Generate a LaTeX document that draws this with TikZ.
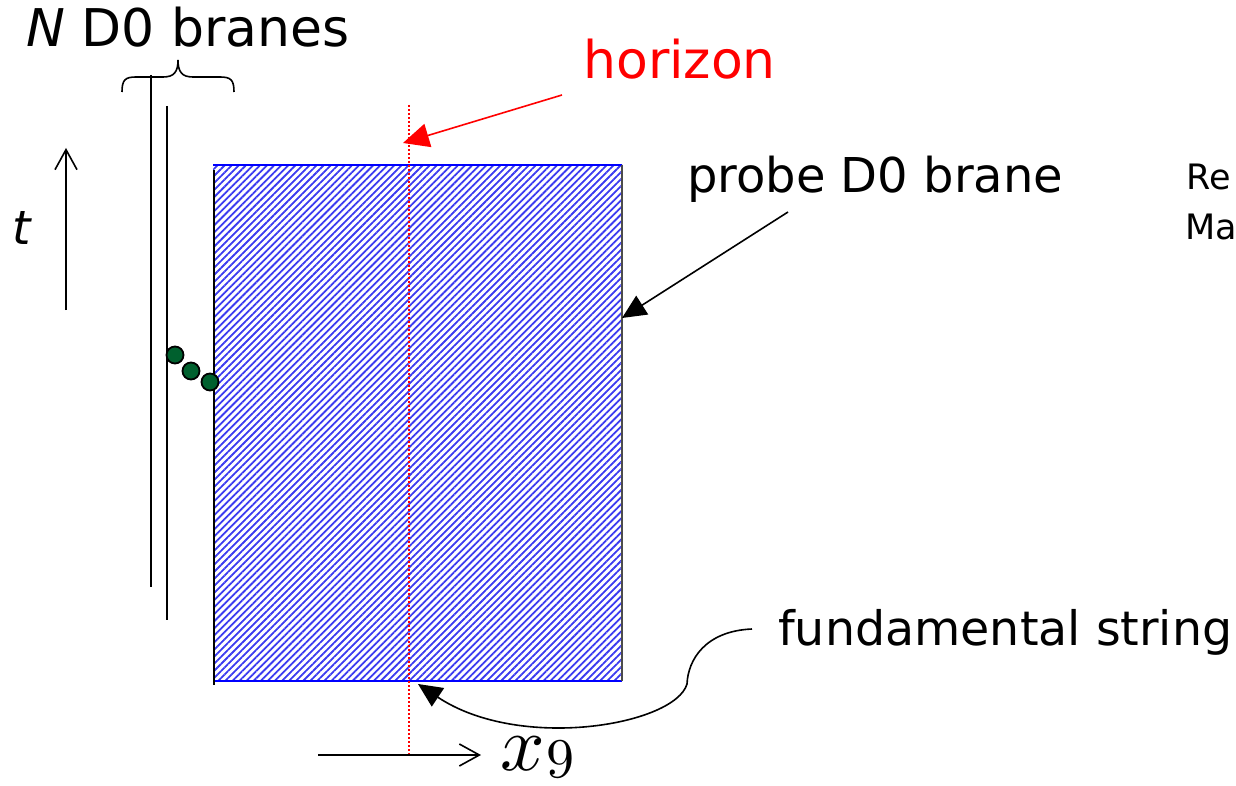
\documentclass[tikz,border=0pt]{standalone}
\usepackage{fontspec}
\setmainfont{DejaVu Sans}
\usetikzlibrary{arrows.meta,patterns.meta}
\definecolor{dkgreen}{HTML}{00602E}
\definecolor{hatchblue}{HTML}{3A3AF0}
\begin{document}
\begin{tikzpicture}[x=1pt,y=-1pt,
  bigtxt/.style={inner sep=0pt, anchor=base west, font=\fontsize{52}{60}\selectfont},
  midtxt/.style={inner sep=0pt, anchor=base west, font=\fontsize{48}{56}\selectfont},
  smalltxt/.style={inner sep=0pt, anchor=base west, font=\fontsize{35}{40}\selectfont},
  thick line/.style={line width=2pt},
  filltip/.style={-{Triangle[length=26pt,width=24pt]}},
  opentip/.style={-{Straight Barb[length=20pt,width=22pt,line width=1.6pt]}},
  dot/.style={circle, draw=black, line width=1.8pt, fill=dkgreen, minimum size=17pt, inner sep=0pt}]
\useasboundingbox (0,0) rectangle (1236,786);
% labels
\node[bigtxt] (nd0) at (26,47) {\textit{N} D0 branes};
\node[bigtxt, text=red] (hor) at (583,79) {horizon};
\node[midtxt] (probe) at (687,193) {probe D0 brane};
\node[inner sep=0pt, anchor=base west, font=\fontsize{47.5}{56}\selectfont] (fund) at (778,645) {fundamental string};
\node[smalltxt] (re) at (1186,190) {Re};
\node[smalltxt] (ma) at (1185,240) {Ma};
\node[inner sep=0pt, anchor=base west, font=\fontsize{47}{56}\selectfont\itshape] (t) at (12,245) {t};
\node[inner sep=0pt, anchor=west] (x9) at (500,757)
  {\scalebox{7.8}{$x$}\hspace{2pt}\raisebox{-7pt}{\scalebox{5.6}{$9$}}};
% hatched probe brane
\path[pattern={Lines[angle=45,distance=5pt,line width=1.8pt]}, pattern color=hatchblue]
  (213,165) rectangle (622,681);
\coordinate (rtl) at (213,165);
\coordinate (rtr) at (622,165);
\coordinate (rbl) at (213,681);
\coordinate (rbr) at (622,681);
\draw[blue, thick line] (rtl) -- (rtr);
\draw[blue, thick line] (rbl) -- (rbr);
\draw[black, line width=1.6pt] (214,170) -- (214,685);
\draw[black!70, line width=1.4pt] (rtr) -- (rbr);
% N D0 branes lines
\coordinate (l1t) at (151,75);
\coordinate (l1b) at (151,587);
\coordinate (l2t) at (167,106);
\coordinate (l2b) at (167,620);
\draw[thick line] (l1t) -- (l1b);
\draw[thick line] (l2t) -- (l2b);
% brace
\draw[line width=1.6pt] (122,92) .. controls (122,80) and (125,77) .. (136,77) -- (163,77)
  .. controls (174,77) and (178,72) .. (178,60)
  .. controls (178,72) and (182,77) .. (193,77) -- (220,77)
  .. controls (231,77) and (234,80) .. (234,92);
% horizon line
\coordinate (ht) at (409,105);
\coordinate (hb) at (409,755);
\draw[red, line width=1.4pt, dash pattern=on 2pt off 2pt] (ht) -- (hb);
% dots
\node[dot] (d1) at (175,355) {};
\node[dot] (d2) at (191,371) {};
\node[dot] (d3) at (210,382) {};
% arrows
\coordinate (hs) at (562,95);
\coordinate (he) at (403,143);
\draw[red, line width=1.6pt, filltip] (hs) -- (he);
\coordinate (ps) at (788,212);
\coordinate (pe) at (622,318);
\draw[line width=1.6pt, -{Triangle[length=24pt,width=22pt]}] (ps) -- (pe);
\coordinate (fs) at (752,629);
\coordinate (fe) at (418,684);
\draw[line width=1.6pt, -{Triangle[length=24pt,width=22pt]}] (fs) .. controls (705,631) and (688,660) .. (687,684)
  .. controls (675,725) and (520,752) .. (fe);
% axes
\coordinate (ta) at (66,310);
\coordinate (tb) at (66,148);
\draw[line width=1.6pt, opentip] (ta) -- (tb);
\coordinate (xa) at (318,755);
\coordinate (xb) at (481,755);
\draw[line width=1.6pt, opentip] (xa) -- (xb);
\end{tikzpicture}
\end{document}
